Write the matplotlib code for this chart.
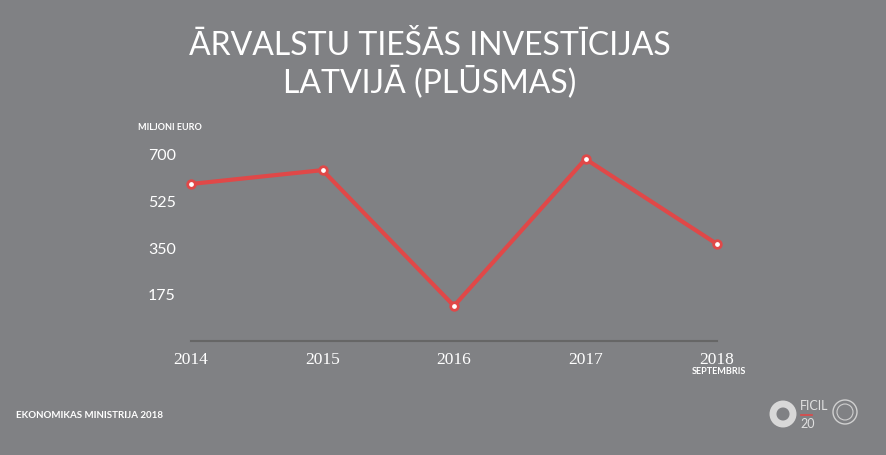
import matplotlib.pyplot as plt
from matplotlib.patches import Ellipse

# dati
years = ['2014', '2015', '2016', '2017', '2018']
values = [591, 643, 132, 685, 365]
y_ticks = [175, 350, 525, 700]

bg = '#808184'
red = '#e04848'

fig = plt.figure(figsize=(8.86, 4.55), dpi=100, facecolor=bg)
ax = fig.add_axes([191 / 886, 1 - 341 / 455, (717 - 191) / 886, (341 - 155) / 455])
ax.set_facecolor(bg)

x = list(range(len(years)))
ax.plot(x, values, color=red, linewidth=3, zorder=3, clip_on=False)
ax.scatter(x, values, s=30, c='white', edgecolors=red, linewidths=2, zorder=4, clip_on=False)

ax.set_xlim(0, len(years) - 1)
ax.set_ylim(0, 700)
ax.set_xticks(x)
ax.set_xticklabels(years, fontfamily='Liberation Serif', fontsize=12.5, color='white')
ax.set_yticks(y_ticks)
ax.set_yticklabels([str(v) for v in y_ticks], fontfamily='Lato', fontsize=11.5, color='white')
ax.tick_params(axis='y', length=0, pad=11)
ax.tick_params(axis='x', length=0, pad=8)

for s in ['top', 'right', 'left']:
    ax.spines[s].set_visible(False)
ax.spines['bottom'].set_color('#666666')
ax.spines['bottom'].set_linewidth(1.5)

# virsraksts
fig.text(430 / 886, 1 - 65 / 455, 'ĀRVALSTU TIEŠĀS INVESTĪCIJAS\nLATVIJĀ (PLŪSMAS)',
         ha='center', va='center', color='white', fontsize=23, fontfamily='Lato',
         linespacing=1.2)

fig.text(138 / 886, 1 - 128 / 455, 'MILJONI EURO', color='white', fontsize=6.5,
         fontweight='bold', fontfamily='Lato', va='center')
fig.text(719 / 886, 1 - 372 / 455, 'SEPTEMBRIS', color='white', fontsize=6.5,
         fontweight='bold', fontfamily='Lato', ha='center', va='center')
fig.text(16 / 886, 1 - 416 / 455, 'EKONOMIKAS MINISTRIJA 2018', color='white', fontsize=7,
         fontweight='bold', fontfamily='Lato', va='center')

# logo (vienkāršots)
fig.patches.append(Ellipse((783 / 886, 1 - 414 / 455), 20 / 886, 20 / 455, transform=fig.transFigure,
                           fill=False, edgecolor='#d8d8d8', linewidth=5))
fig.text(800 / 886, 1 - 406 / 455, 'FICIL', color='#e0e0e0', fontsize=9,
         fontfamily='Lato', va='center')
fig.text(800 / 886, 1 - 424 / 455, '20', color='#e0e0e0', fontsize=9,
         fontfamily='Lato', va='center')
fig.add_artist(plt.Line2D([801 / 886, 812 / 886], [1 - 415 / 455, 1 - 415 / 455],
                          color=red, linewidth=1.2, transform=fig.transFigure))
fig.patches.append(Ellipse((845 / 886, 1 - 412 / 455), 24 / 886, 24 / 455, transform=fig.transFigure,
                           fill=False, edgecolor='#d0d0d0', linewidth=1))
fig.patches.append(Ellipse((845 / 886, 1 - 412 / 455), 16 / 886, 16 / 455, transform=fig.transFigure,
                           fill=False, edgecolor='#d0d0d0', linewidth=0.8))

plt.savefig('out.png', dpi=100, facecolor=bg)
